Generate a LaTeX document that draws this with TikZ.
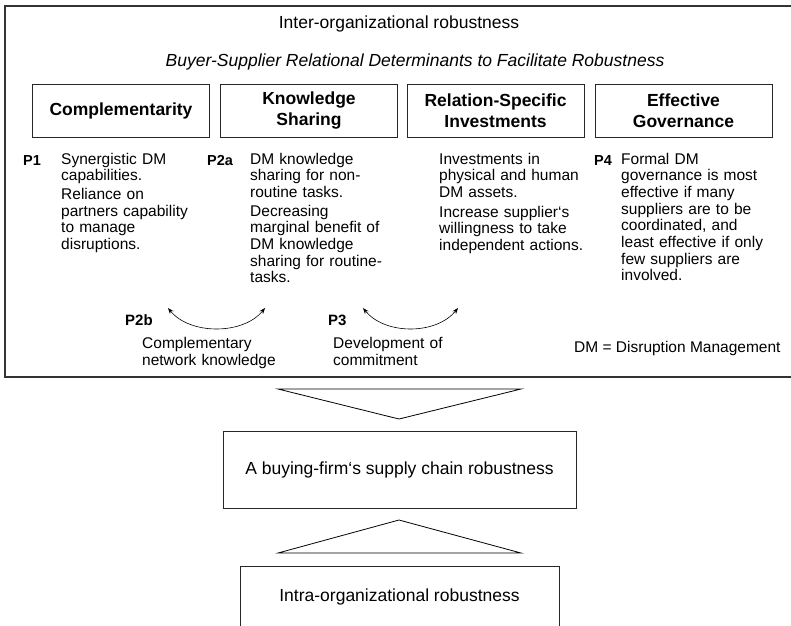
\documentclass[tikz,border=0pt]{standalone}
\usepackage{fontspec}
\setmainfont{Liberation Sans}
\usetikzlibrary{arrows.meta}
\begin{document}
\begin{tikzpicture}[x=1pt,y=-1pt,
  frame/.style={draw=black!80,line width=1.1pt},
  box/.style={draw=black!85,line width=0.9pt,inner sep=0pt},
  headbox/.style={box,minimum width=177pt,minimum height=53pt,
    font=\fontsize{17.5}{21}\selectfont\bfseries,align=center},
  bigtext/.style={font=\fontsize{17.5}{21}\selectfont},
  body/.style={font=\fontsize{15.5}{16.7}\selectfont,anchor=base west,
    inner sep=0pt,text width=175pt,align=left},
  plabel/.style={font=\fontsize{14.5}{16}\selectfont\bfseries,anchor=base west,inner sep=0pt},
  link/.style={draw=black,line width=0.6pt,{Stealth[length=6pt,width=4.5pt]}-{Stealth[length=6pt,width=4.5pt]}},
  wedge/.style={draw=black,line width=0.8pt,line join=miter}
]
\useasboundingbox (0,0) rectangle (791,625);

% outer frame of the inter-organizational part (open to the right)
\draw[frame] (800,6) -- (5,6) -- (5,377) -- (800,377);

\node[bigtext,anchor=base] (title) at (399,28) {Inter-organizational robustness};
\node[bigtext,anchor=base] (subtitle) at (415,66) {\itshape Buyer-Supplier Relational Determinants to Facilitate Robustness};

% determinant boxes
\node[headbox] (compl) at (121,110.5) {Complementarity};
\node[headbox] (know)  at (309,110.5) {Knowledge\\Sharing};
\node[headbox] (invest) at (495.5,110.5) {Relation-Specific\\Investments};
\node[headbox] (gov)   at (683.5,110.5) {Effective\\Governance};

% propositions
\node[plabel] (p1) at (23,165.5) {P1};
\node[body] (t1) at (61,164) {Synergistic DM\\capabilities.\\[2pt]Reliance on\\partners capability\\to manage\\disruptions.};

\node[plabel] (p2a) at (207,165.5) {P2a};
\node[body] (t2) at (250,164) {DM knowledge\\sharing for non-\\routine tasks.\\[2pt]Decreasing\\marginal benefit of\\DM knowledge\\sharing for routine-\\tasks.};

\node[body] (t3) at (439,164) {Investments in\\physical and human\\DM assets.\\[3pt]Increase supplier‘s\\willingness to take\\independent actions.};

\node[plabel] (p4) at (594,165.5) {P4};
\node[body] (t4) at (621,164) {Formal DM\\governance is most\\effective if many\\suppliers are to be\\coordinated, and\\least effective if only\\few suppliers are\\involved.};

% linking arrows
\coordinate (l1a) at (168,308);
\coordinate (l1b) at (265,308);
\coordinate (l2a) at (363,308);
\coordinate (l2b) at (458,308);
\draw[link] (l1a) .. controls (190,335) and (243,335) .. (l1b);
\draw[link] (l2a) .. controls (385,335) and (436,335) .. (l2b);

\node[plabel,font=\fontsize{15}{17}\selectfont\bfseries] (p2b) at (125,325.5) {P2b};
\node[body] (t2b) at (142,348.5) {Complementary\\network knowledge};
\node[plabel,font=\fontsize{15}{17}\selectfont\bfseries] (p3) at (328,325.5) {P3};
\node[body] (t3b) at (333,348.5) {Development of\\commitment};

\node[font=\fontsize{15.5}{17}\selectfont,anchor=base west,inner sep=0pt] (dm) at (574,352.5) {DM = Disruption Management};

% robustness boxes and wedges
\node[box,bigtext,minimum width=353pt,minimum height=77pt] (firm) at (399.5,469.5) {A buying-firm‘s supply chain robustness};
\node[box,bigtext,minimum width=319pt,minimum height=62pt] (intra) at (399.5,597) {Intra-organizational robustness};

\coordinate (d1) at (278,389);
\coordinate (d2) at (521,389);
\coordinate (d3) at (399,419);
\draw[wedge] (d1) -- (d2) -- (d3) -- cycle;
\coordinate (u1) at (278,553);
\coordinate (u2) at (521,553);
\coordinate (u3) at (399,520);
\draw[wedge] (u1) -- (u3) -- (u2) -- cycle;
\end{tikzpicture}
\end{document}
